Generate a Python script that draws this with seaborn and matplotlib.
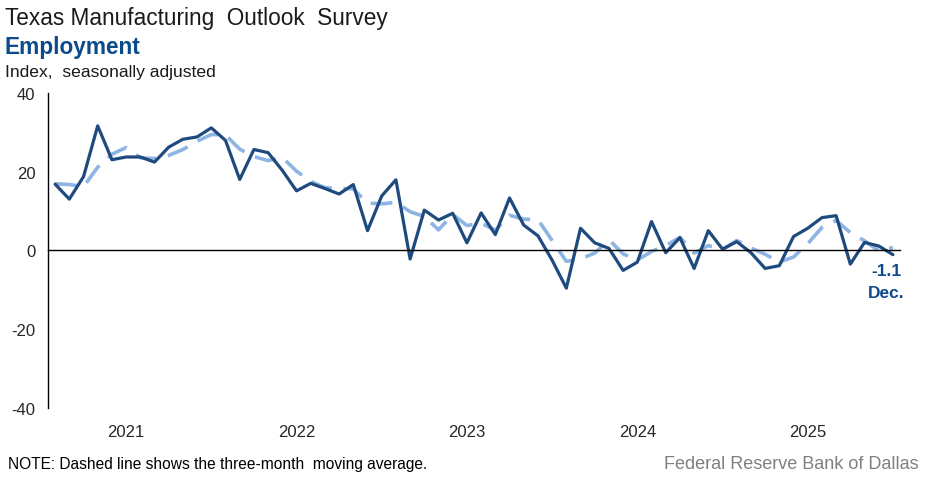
import numpy as np
import pandas as pd
import matplotlib
matplotlib.use('Agg')
import matplotlib.pyplot as plt
import matplotlib.transforms as mtransforms
import seaborn as sns

# Employment index, Jan 2021 - Dec 2025
employment = [
    16.8, 13.0, 18.7, 31.6, 23.0, 23.7, 23.7, 22.4, 26.2, 28.2, 28.8, 31.1,
    27.9, 18.0, 25.6, 24.8, 20.3, 15.1, 17.0, 15.7, 14.3, 16.7, 5.0, 13.8,
    17.9, -2.2, 10.2, 7.7, 9.4, 1.9, 9.5, 4.0, 13.3, 6.4, 3.7, -2.5,
    -9.6, 5.6, 1.9, 0.5, -5.1, -3.0, 7.3, -0.6, 3.2, -4.6, 5.0, 0.3,
    2.2, -0.6, -4.6, -3.9, 3.5, 5.6, 8.3, 8.8, -3.5, 2.0, 1.1, -1.1,
]
# three-month moving average (dashed line)
moving_avg = [
    16.9, 16.7, 16.2, 21.1, 24.4, 26.1, 23.5, 23.3, 24.1, 25.6, 27.7, 29.4,
    29.3, 25.7, 23.8, 22.8, 23.6, 20.1, 17.5, 15.9, 15.7, 15.6, 12.0, 11.8,
    12.2, 9.8, 8.6, 5.2, 9.1, 6.3, 6.9, 5.1, 8.9, 7.9, 7.8, 2.5,
    -2.8, -2.2, -0.7, 2.7, -0.9, -2.5, -0.3, 1.2, 3.3, -0.7, 1.2, 0.2,
    2.5, 0.6, -1.0, -3.0, -1.7, 1.7, 5.8, 7.6, 4.5, 2.4, -0.1, 0.7,
]
years = ['2021', '2022', '2023', '2024', '2025']
yticks = [-40, -20, 0, 20, 40]

df = pd.DataFrame({'month': np.arange(len(employment)),
                   'employment': employment,
                   'avg': moving_avg})

sns.set_style('white')
plt.rcParams['font.family'] = ['Liberation Sans', 'DejaVu Sans']

navy = '#1f4a7e'
light = '#8db4e3'
blue_txt = '#0b4a8b'

fig = plt.figure(figsize=(9.25, 4.81), dpi=100)
ax = fig.add_axes([0.0519, 0.150, 0.9211, 0.655])

sns.lineplot(data=df, x='month', y='avg', ax=ax, color=light, linewidth=2.6)
ax.lines[-1].set_dashes([6, 3.2])
sns.lineplot(data=df, x='month', y='employment', ax=ax, color=navy, linewidth=2.3)

n = len(employment)
ax.set_xlim(-0.5, n - 0.5)
ax.set_ylim(-40, 40)
ax.set_yticks(yticks)
ax.set_yticklabels([str(v) for v in yticks], fontsize=12)
ax.tick_params(axis='y', direction='out', length=5, width=1, color='black', pad=4)

# zero line as the bottom spine, with ticks at year boundaries
for s in ['top', 'right']:
    ax.spines[s].set_visible(False)
ax.spines['bottom'].set_position(('data', 0))
ax.spines['left'].set_color('black')
ax.spines['bottom'].set_color('black')
ax.spines['left'].set_linewidth(1)
ax.spines['bottom'].set_linewidth(1)
ax.set_xticks(np.arange(-0.5, n, 12))
ax.set_xticklabels([])
ax.tick_params(axis='x', direction='out', length=5, width=1, color='black')
ax.set_xlabel('')
ax.set_ylabel('')

trans = mtransforms.blended_transform_factory(ax.transData, ax.transAxes)
for k, yr in enumerate(years):
    ax.text(12 * k + 5, -0.052, yr, transform=trans, ha='center', va='top',
            fontsize=12)

# last value annotation
ax.text(n - 0.4, employment[-1] - 2.2, f'{employment[-1]:.1f}', ha='right', va='top',
        fontsize=12.5, fontweight='bold', color=blue_txt)
ax.text(n - 0.2, employment[-1] - 7.8, 'Dec.', ha='right', va='top',
        fontsize=12.5, fontweight='bold', color=blue_txt)

fig.text(0.005, 0.985, 'Texas Manufacturing  Outlook  Survey', ha='left', va='top',
         fontsize=16.3, color='#1a1a1a')
fig.text(0.005, 0.925, 'Employment', ha='left', va='top', fontsize=16.3,
         fontweight='bold', color=blue_txt)
fig.text(0.005, 0.865, 'Index,  seasonally adjusted', ha='left', va='top',
         fontsize=12.6, color='#1a1a1a')
fig.text(0.009, 0.018, 'NOTE: Dashed line shows the three-month  moving average.',
         ha='left', va='bottom', fontsize=11.2, color='black')
fig.text(0.993, 0.016, 'Federal Reserve Bank of Dallas', ha='right', va='bottom',
         fontsize=13, color='#808080')

plt.savefig('out.png', dpi=100)
plt.close()
